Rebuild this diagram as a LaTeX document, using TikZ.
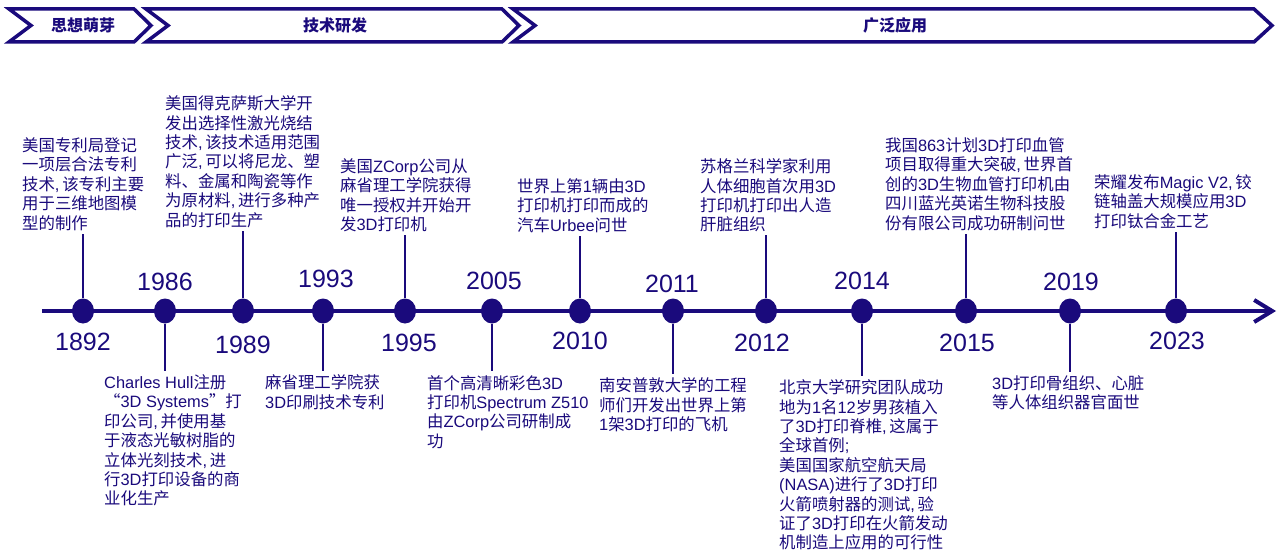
\documentclass[tikz,border=0pt]{standalone}
\usepackage{fontspec}
\setmainfont{Liberation Sans}
\newfontfamily\cjkf{Noto Sans CJK SC}
\newfontfamily\latf{Liberation Sans}
\usetikzlibrary{arrows.meta,shapes.geometric}
\definecolor{navy}{RGB}{26,10,124}
\XeTeXinterchartokenstate=1
\newXeTeXintercharclass\CJKcls
\makeatletter
\def\setcjkrange#1#2{\count@=#1 \loop\XeTeXcharclass\count@=\CJKcls\ifnum\count@<#2 \advance\count@ by 1 \repeat}
\setcjkrange{"3000}{"303F}
\setcjkrange{"4E00}{"9FFF}
\setcjkrange{"FF00}{"FFEF}
\XeTeXcharclass"201C=\CJKcls
\XeTeXcharclass"201D=\CJKcls
\makeatother
\XeTeXinterchartoks 0 \CJKcls = {\cjkf}
\XeTeXinterchartoks 4095 \CJKcls = {\cjkf}
\XeTeXinterchartoks \CJKcls 0 = {\latf}
\XeTeXinterchartoks 4095 0 = {\latf}
\tikzset{
  tline/.style={draw=navy, line width=4pt, -{Straight Barb[length=18pt,width=22pt]}},
  tdot/.style={ellipse, fill=navy, minimum width=22pt, minimum height=25pt, inner sep=0pt},
  stem/.style={draw=navy, line width=1.3pt},
  yr/.style={font=\fontsize{25}{25}\selectfont\latf, text=navy, inner sep=0pt},
  desc/.style={font=\fontsize{16.4}{19.4}\selectfont, text=navy, align=left, inner sep=0pt, anchor=north west},
  chev/.style={draw=navy, line width=3.5pt, fill=white, line join=miter},
  hdr/.style={font=\fontsize{16}{16}\selectfont\cjkf\bfseries, text=navy, inner sep=0pt}
}
\begin{document}
\begin{tikzpicture}[x=1pt,y=-1pt]
\useasboundingbox[fill=white] (0,0) rectangle (1284,551);
% header chevrons
\draw[chev] (9,9) -- (134,9) -- (151,25.5) -- (134,42) -- (9,42) -- (31,25.5) -- cycle;
\draw[chev] (146,9) -- (502,9) -- (519,25.5) -- (502,42) -- (146,42) -- (168,25.5) -- cycle;
\draw[chev] (513,9) -- (1254,9) -- (1272,25.5) -- (1254,42) -- (513,42) -- (535,25.5) -- cycle;
\node[hdr] (h1) at (83,25.5) {思想萌芽};
\node[hdr] (h2) at (335,25.5) {技术研发};
\node[hdr] (h3) at (895,25.5) {广泛应用};
% timeline
\coordinate (tstart) at (42,311);
\coordinate (tend) at (1276,311);
\draw[tline] (tstart) -- (tend);
\node[tdot] (d1892) at (83,311) {};
\node[tdot] (d1986) at (165,311) {};
\node[tdot] (d1989) at (243,311) {};
\node[tdot] (d1993) at (323,311) {};
\node[tdot] (d1995) at (405,311) {};
\node[tdot] (d2005) at (492,311) {};
\node[tdot] (d2010) at (580,311) {};
\node[tdot] (d2011) at (673,311) {};
\node[tdot] (d2012) at (766,311) {};
\node[tdot] (d2014) at (862,311) {};
\node[tdot] (d2015) at (966,311) {};
\node[tdot] (d2019) at (1070,311) {};
\node[tdot] (d2023) at (1176,311) {};
% years
\node[yr] (y1892) at (83,342) {1892};
\node[yr] (y1986) at (165,282) {1986};
\node[yr] (y1989) at (243,345) {1989};
\node[yr] (y1993) at (326,279) {1993};
\node[yr] (y1995) at (409,343) {1995};
\node[yr] (y2005) at (494,281) {2005};
\node[yr] (y2010) at (580,341) {2010};
\node[yr] (y2011) at (672,284) {2011};
\node[yr] (y2012) at (762,343) {2012};
\node[yr] (y2014) at (862,281) {2014};
\node[yr] (y2015) at (967,343) {2015};
\node[yr] (y2019) at (1071,282) {2019};
\node[yr] (y2023) at (1177,341) {2023};
% texts above
\node[desc] (t1892) at (22,137.5) {美国专利局登记\\一项层合法专利\\技术,\,该专利主要\\用于三维地图模\\型的制作};
\node[desc] (t1989) at (165,95.5) {美国得克萨斯大学开\\发出选择性激光烧结\\技术,\,该技术适用范围\\广泛,\,可以将尼龙、塑\\料、金属和陶瓷等作\\为原材料,\,进行多种产\\品的打印生产};
\node[desc] (t1995) at (340,158.5) {美国ZCorp公司从\\麻省理工学院获得\\唯一授权并开始开\\发3D打印机};
\node[desc] (t2010) at (517,178.5) {世界上第1辆由3D\\打印机打印而成的\\汽车Urbee问世};
\node[desc] (t2012) at (700,158.5) {苏格兰科学家利用\\人体细胞首次用3D\\打印机打印出人造\\肝脏组织};
\node[desc] (t2015) at (885,137.5) {我国863计划3D打印血管\\项目取得重大突破,\,世界首\\创的3D生物血管打印机由\\四川蓝光英诺生物科技股\\份有限公司成功研制问世};
\node[desc] (t2023) at (1094,174.5) {荣耀发布Magic V2,\,铰\\链轴盖大规模应用3D\\打印钛合金工艺};
% texts below
\node[desc] (b1986) at (104,374.5) {Charles Hull注册\\“3D Systems”打\\印公司,\,并使用基\\于液态光敏树脂的\\立体光刻技术,\,进\\行3D打印设备的商\\业化生产};
\node[desc] (b1993) at (265,374.5) {麻省理工学院获\\3D印刷技术专利};
\node[desc] (b2005) at (427,375) {首个高清晰彩色3D\\打印机Spectrum Z510\\由ZCorp公司研制成\\功};
\node[desc] (b2011) at (599,377.5) {南安普敦大学的工程\\师们开发出世界上第\\1架3D打印的飞机};
\node[desc] (b2014) at (779,379.5) {北京大学研究团队成功\\地为1名12岁男孩植入\\了3D打印脊椎,\,这属于\\全球首例;\\美国国家航空航天局\\(NASA)进行了3D打印\\火箭喷射器的测试,\,验\\证了3D打印在火箭发动\\机制造上应用的可行性};
\node[desc] (b2019) at (992,375.5) {3D打印骨组织、心脏\\等人体组织器官面世};
% stems up
\draw[stem, shorten >=3pt] (d1892) -- (d1892 |- t1892.south);
\draw[stem, shorten >=3pt] (d1989) -- (d1989 |- t1989.south);
\draw[stem, shorten >=3pt] (d1995) -- (d1995 |- t1995.south);
\draw[stem, shorten >=3pt] (d2010) -- (d2010 |- t2010.south);
\draw[stem, shorten >=3pt] (d2012) -- (d2012 |- t2012.south);
\draw[stem, shorten >=3pt] (d2015) -- (d2015 |- t2015.south);
\draw[stem, shorten >=3pt] (d2023) -- (d2023 |- t2023.south);
% stems down
\draw[stem, shorten >=4pt] (d1986) -- (d1986 |- b1986.north);
\draw[stem, shorten >=4pt] (d1993) -- (d1993 |- b1993.north);
\draw[stem, shorten >=4pt] (d2005) -- (d2005 |- b2005.north);
\draw[stem, shorten >=4pt] (d2011) -- (d2011 |- b2011.north);
\draw[stem, shorten >=4pt] (d2014) -- (d2014 |- b2014.north);
\draw[stem, shorten >=4pt] (d2019) -- (d2019 |- b2019.north);
\end{tikzpicture}
\end{document}
